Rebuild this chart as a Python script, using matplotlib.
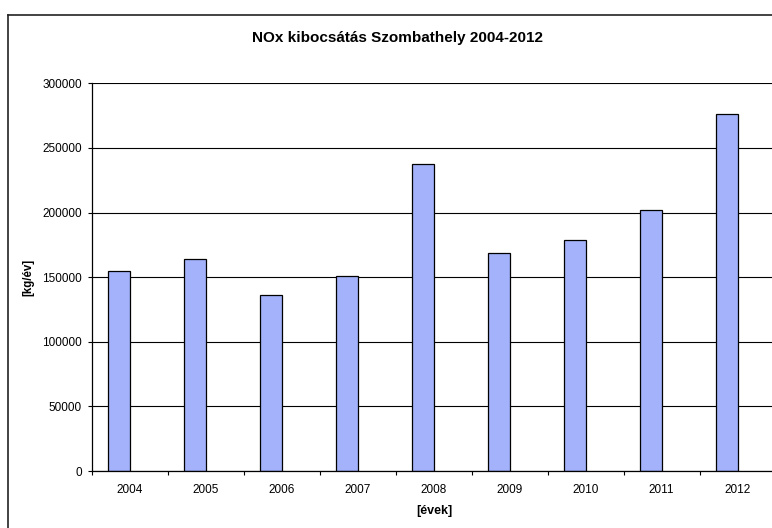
"""
NOx kibocsátás Szombathely 2004-2012 — oszlopdiagram (Excel-stílus)
"""
import matplotlib
matplotlib.use("Agg")
import matplotlib.pyplot as plt
from matplotlib.lines import Line2D
import numpy as np

plt.rcParams["font.family"] = ["Liberation Sans", "DejaVu Sans"]

# adatok
YEARS = ["2004", "2005", "2006", "2007", "2008", "2009", "2010", "2011", "2012"]
NOX_KG = [154700, 163800, 135900, 150900, 237300, 169000, 179100, 201600, 276200]
Y_TICKS = [0, 50000, 100000, 150000, 200000, 250000, 300000]

BAR_COLOR = "#A3B2FA"
W, H = 772, 528

fig = plt.figure(figsize=(W / 100, H / 100), dpi=100)
fig.patch.set_facecolor("white")

# plot terület pixelben: bal 91.6, jobb 775.6 (kilóg), fent 83.3, lent 471
ax = fig.add_axes([91.6 / W, 1 - 471 / H, 684 / W, (471 - 83.3) / H])

x = np.arange(len(YEARS))
bw = 0.2857  # két sorozat helye, 150% réskihagyás -> az első a kategória bal felén
ax.bar(x - bw, NOX_KG, width=bw, align="edge", color=BAR_COLOR,
       edgecolor="black", linewidth=0.9, zorder=3)

ax.set_xlim(-0.5, len(YEARS) - 0.5)
ax.set_ylim(0, 300000)
ax.set_yticks(Y_TICKS)
ax.set_yticklabels([str(t) for t in Y_TICKS])
ax.yaxis.grid(True, color="black", linewidth=0.8, zorder=1)
ax.set_axisbelow(True)

ax.set_xticks(x)
ax.set_xticklabels(YEARS)
ax.set_xticks(np.arange(-0.5, len(YEARS) + 0.5, 1.0), minor=True)
ax.tick_params(axis="x", which="major", length=0, pad=9.5, labelsize=8.5)
ax.tick_params(axis="x", which="minor", length=3, width=0.8, direction="out")
ax.tick_params(axis="y", length=3, width=0.8, direction="out", pad=4, labelsize=8.5)

for side in ("top", "right"):
    ax.spines[side].set_visible(False)
for side in ("left", "bottom"):
    ax.spines[side].set_linewidth(0.9)
    ax.spines[side].set_zorder(4)

fig.text(397 / W, 1 - 38 / H, "NOx kibocsátás Szombathely 2004-2012",
         ha="center", va="center", fontsize=11, fontweight="bold")
fig.text(28 / W, 1 - 277 / H, "[kg/év]", rotation=90,
         ha="center", va="center", fontsize=8.3, fontweight="bold")
fig.text(434 / W, 1 - 511 / H, "[évek]",
         ha="center", va="center", fontsize=9, fontweight="bold")

# külső keret (bal és felső él látszik)
fx, fy = 7.5 / W, 1 - 14.5 / H
fig.add_artist(Line2D([fx, fx], [0, fy], color="#222222", linewidth=1.2))
fig.add_artist(Line2D([fx, 1], [fy, fy], color="#222222", linewidth=1.2))

fig.savefig("out.png", dpi=100)
